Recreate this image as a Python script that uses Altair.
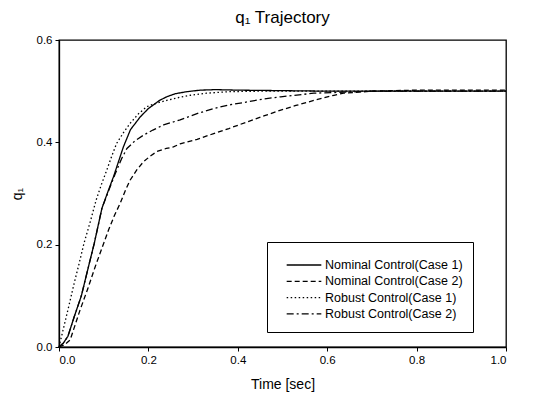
import altair as alt
import pandas as pd

series_names = [
    "Nominal Control(Case 1)",
    "Nominal Control(Case 2)",
    "Robust Control(Case 1)",
    "Robust Control(Case 2)",
]

x_ticks = [0, 0.2, 0.4, 0.6, 0.8, 1.0]
y_ticks = [0, 0.2, 0.4, 0.6]

t_nom1 = [0, 0.01, 0.02, 0.034, 0.05, 0.064, 0.079, 0.096, 0.11, 0.122, 0.133, 0.144, 0.16, 0.182, 0.2, 0.211,
          0.225, 0.241, 0.26, 0.286, 0.316, 0.35, 0.4, 0.5, 0.6, 0.8, 1.0]
q_nom1 = [0, 0.008, 0.021, 0.059, 0.10, 0.15, 0.203, 0.271, 0.305, 0.333, 0.362, 0.391, 0.425, 0.45, 0.466, 0.473,
          0.482, 0.489, 0.495, 0.499, 0.502, 0.503, 0.502, 0.501, 0.5, 0.5, 0.5]

t_nom2 = [0, 0.012, 0.025, 0.047, 0.064, 0.081, 0.096, 0.111, 0.124, 0.137, 0.148, 0.159, 0.174, 0.189, 0.204,
          0.219, 0.24, 0.256, 0.271, 0.309, 0.346, 0.38, 0.421, 0.46, 0.496, 0.53, 0.57, 0.615, 0.637, 0.7, 0.8,
          0.9, 1.0]
q_nom2 = [0, 0.004, 0.014, 0.072, 0.113, 0.157, 0.193, 0.229, 0.257, 0.281, 0.305, 0.326, 0.346, 0.362, 0.373,
          0.382, 0.388, 0.391, 0.397, 0.406, 0.417, 0.427, 0.44, 0.452, 0.463, 0.472, 0.482, 0.492, 0.496, 0.5,
          0.502, 0.502, 0.502]

t_rob1 = [0, 0.011, 0.022, 0.034, 0.045, 0.056, 0.07, 0.083, 0.095, 0.107, 0.118, 0.129, 0.145, 0.159, 0.178,
          0.197, 0.22, 0.241, 0.27, 0.294, 0.33, 0.38, 0.45, 0.6, 1.0]
q_rob1 = [0, 0.04, 0.08, 0.125, 0.163, 0.203, 0.245, 0.287, 0.318, 0.346, 0.373, 0.398, 0.42, 0.437, 0.456,
          0.47, 0.477, 0.482, 0.488, 0.492, 0.496, 0.499, 0.5, 0.5, 0.5]

t_rob2 = [0, 0.01, 0.02, 0.034, 0.05, 0.064, 0.079, 0.096, 0.11, 0.126, 0.14, 0.152, 0.17, 0.189, 0.21, 0.234,
          0.271, 0.312, 0.346, 0.38, 0.421, 0.46, 0.496, 0.57, 0.637, 0.7, 0.8, 1.0]
q_rob2 = [0, 0.008, 0.021, 0.059, 0.10, 0.15, 0.203, 0.271, 0.303, 0.339, 0.368, 0.388, 0.403, 0.414, 0.424,
          0.434, 0.444, 0.457, 0.466, 0.473, 0.479, 0.485, 0.489, 0.496, 0.498, 0.5, 0.5, 0.5]

frames = []
for name, ts, qs in zip(series_names, [t_nom1, t_nom2, t_rob1, t_rob2], [q_nom1, q_nom2, q_rob1, q_rob2]):
    frames.append(pd.DataFrame({"t": ts, "q": qs, "series": name, "order": range(len(ts))}))
df = pd.concat(frames, ignore_index=True)

font = "Liberation Sans"

lines = alt.Chart(df).mark_line(color="black", strokeWidth=1.3).encode(
    x=alt.X("t:Q", scale=alt.Scale(domain=[0, 1], nice=False),
            axis=alt.Axis(title="Time [sec]", values=x_ticks, format=".1f")),
    y=alt.Y("q:Q", scale=alt.Scale(domain=[0, 0.6], nice=False),
            axis=alt.Axis(title="q₁", titleColor="black", values=y_ticks, format=".1f")),
    strokeDash=alt.StrokeDash(
        "series:N",
        scale=alt.Scale(domain=series_names, range=[[1, 0], [5, 3], [1.5, 2.5], [7, 3, 2, 3]]),
        legend=alt.Legend(
            title=" ", titleFontSize=3, titlePadding=2.5,
            orient="none", legendX=208, legendY=202,
            symbolType="stroke", symbolSize=1200, symbolStrokeColor="black", symbolStrokeWidth=1.3,
            clipHeight=15, labelOffset=3,
            labelFont=font, labelFontSize=12.5, labelColor="black",
            strokeColor="black", fillColor="white", padding=10, symbolOffset=9, rowPadding=1.3,
        ),
    ),
    order="order:Q",
)

chart = lines.properties(
    width=447, height=307,
    title=alt.TitleParams("q₁ Trajectory", font=font, fontSize=17, fontWeight="normal", color="black", offset=7),
    autosize=alt.AutoSizeParams(type="none"),
    padding={"left": 51, "top": 32, "right": 10, "bottom": 54},
).configure_view(stroke="black", strokeWidth=1.3).configure_axis(
    grid=False, domainColor="black", tickColor="black", labelColor="black", titleColor="black",
    labelFont=font, titleFont=font, labelFontSize=11.5, titleFontSize=14, titleFontWeight="normal",
    tickSize=4, domainWidth=1.3, labelPadding=3,
).configure_axisY(titlePadding=12).configure_axisX(titlePadding=12)

chart.save("out.html", embed_options={"renderer": "svg", "actions": False})
